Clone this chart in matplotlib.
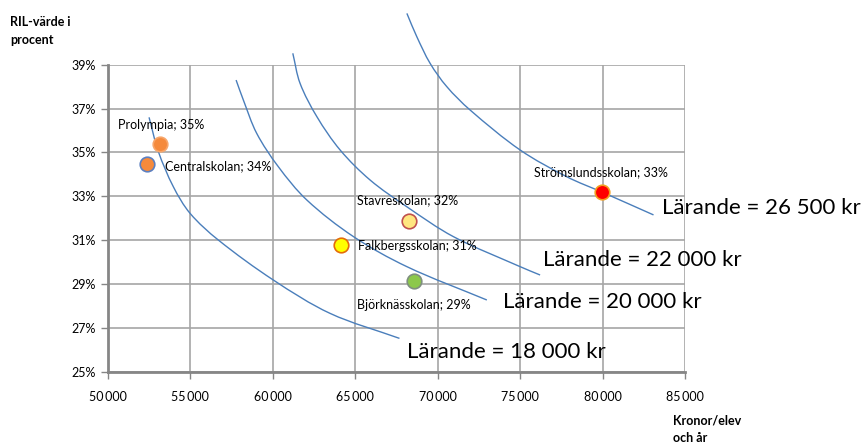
import numpy as np
import matplotlib.pyplot as plt
from matplotlib.path import Path
from matplotlib.patches import PathPatch
from matplotlib.ticker import FuncFormatter

plt.rcParams['font.family'] = ['Lato', 'DejaVu Sans']

# skolor: kronor/elev och år, RIL-värde i procent
skolor = ['Prolympia', 'Centralskolan', 'Stavreskolan', 'Falkbergsskolan',
          'Björknässkolan', 'Strömslundsskolan']
kronor = [53170, 52390, 68270, 64120, 68570, 79980]
ril = [35.37, 34.46, 31.87, 30.78, 29.14, 33.19]
etikett = ['35%', '34%', '32%', '31%', '29%', '33%']

# isokurvor för lärande (avlästa punkter)
kurva_namn = ['Lärande = 18 000 kr', 'Lärande = 20 000 kr',
              'Lärande = 22 000 kr', 'Lärande = 26 500 kr']
kurva_x = [
    [52490, 53050, 53960, 54980, 56700, 60030, 63470, 67680],
    [57770, 58210, 59020, 60330, 62060, 64890, 68130, 72980],
    [61210, 61650, 62670, 64080, 65900, 68130, 70950, 75000, 76210],
    [68130, 68730, 69540, 70550, 71970, 75000, 77830, 80060, 83090],
]
kurva_y = [
    [36.60, 35.05, 33.44, 32.22, 31.00, 29.18, 27.66, 26.52],
    [38.30, 37.39, 35.87, 34.35, 32.83, 31.16, 29.79, 28.27],
    [39.52, 38.15, 36.63, 35.11, 33.74, 32.52, 31.16, 29.79, 29.41],
    [41.34, 40.28, 39.06, 38.00, 36.93, 35.11, 33.89, 33.16, 32.15],
]

fyll = ['#F58A3C', '#F58A3C', '#FFE680', '#FFFF00', '#8CC84B', '#FF0000']
kant = ['#F7A66B', '#5B7FC0', '#C0504D', '#E46C0A', '#7F8F7F', '#F2A020']
# etikettens förskjutning i pixlar (x, y)
offs = [(-42, 19), (18, -2), (-52, 21), (17, -1), (-57, -24), (-68, 20)]


def smooth_path(ax, xs, ys):
    # utjämnad linje som i Excel, Bezier genom punkterna i pixelrymd
    pts = ax.transData.transform(np.column_stack([xs, ys]))
    verts = [pts[0]]
    codes = [Path.MOVETO]
    n = len(pts)
    tang = []
    for i in range(n):
        a = pts[max(i - 1, 0)]
        b = pts[min(i + 1, n - 1)]
        t = b - a
        tang.append(t / (np.linalg.norm(t) + 1e-9))
    for i in range(n - 1):
        p1, p2 = pts[i], pts[i + 1]
        d = np.linalg.norm(p2 - p1) / 3
        verts += [p1 + tang[i] * d, p2 - tang[i + 1] * d, p2]
        codes += [Path.CURVE4] * 3
    return Path(verts, codes)


fig = plt.figure(figsize=(8.65, 4.44), dpi=100)
ax = fig.add_axes([108 / 865, 1 - 371.7 / 444, 577 / 865, 307 / 444])

ax.set_xlim(50000, 85000)
ax.set_ylim(25, 39)
ax.set_xticks(np.arange(50000, 85001, 5000))
ax.set_yticks(np.arange(25, 39.1, 2))
ax.grid(True, color='#A6A6A6', lw=1.2)
ax.set_axisbelow(True)
for s in ['top', 'right']:
    ax.spines[s].set_visible(False)
for s in ['left', 'bottom']:
    ax.spines[s].set_color('#868686')
    ax.spines[s].set_linewidth(2)
ax.tick_params(direction='out', length=5, width=1, color='#868686',
               labelsize=9, pad=4)
ax.tick_params(axis='x', pad=9)
ax.xaxis.set_major_formatter(FuncFormatter(lambda v, p: f'{int(v):,}'.replace(',', '\u2009')))
ax.yaxis.set_major_formatter(FuncFormatter(lambda v, p: f'{v:.0f}%'))

for xs, ys in zip(kurva_x, kurva_y):
    path = smooth_path(ax, xs, ys)
    ax.add_artist(PathPatch(path, transform=None, fill=False,
                            edgecolor='#4A7EBB', lw=1, clip_on=False,
                            zorder=2))

for i in range(len(skolor)):
    ax.scatter(kronor[i], ril[i], s=110, color=fyll[i], edgecolors=kant[i],
               linewidths=1.2, zorder=3, clip_on=False)
    dx, dy = offs[i]
    ax.annotate(f'{skolor[i]}; {etikett[i]}', (kronor[i], ril[i]),
                xytext=(dx, dy), textcoords='offset pixels', ha='left',
                va='center', fontsize=9, zorder=4)

# stora kurvetiketter
kurva_pos = [(407, 352), (503, 302), (543, 260), (662, 208)]
for namn, (px, py) in zip(kurva_namn, kurva_pos):
    fig.text(px / 865, 1 - py / 444, namn, fontsize=16, ha='left', va='center')

fig.text(10 / 865, 1 - 31 / 444, 'RIL-värde i\nprocent', fontsize=9,
         fontweight='bold', ha='left', va='center', linespacing=1.5)
fig.text(673 / 865, 1 - 429 / 444, 'Kronor/elev\noch år', fontsize=9,
         fontweight='bold', ha='left', va='center', linespacing=1.5)

fig.savefig('out.png', dpi=100)
